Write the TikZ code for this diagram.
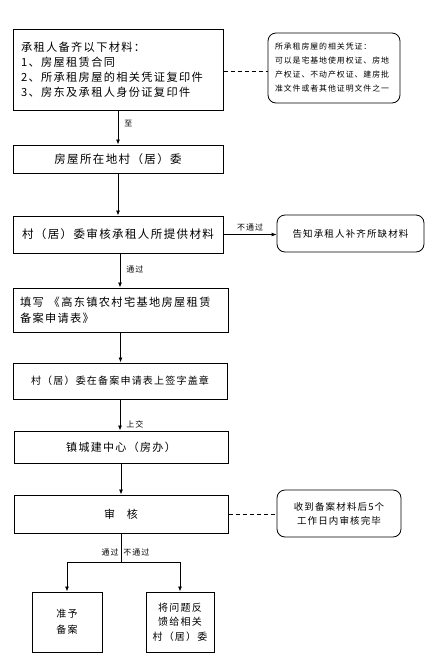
\documentclass[tikz,border=0pt]{standalone}
\usepackage{fontspec}
\newfontfamily\cjk[LetterSpace=12]{Noto Sans CJK SC}
\usetikzlibrary{arrows.meta}

\begin{document}
\begin{tikzpicture}[
  x=1pt, y=-1pt,
  font=\cjk\fontsize{11.5}{15}\selectfont,
  box/.style={rectangle, draw, line width=1pt, inner sep=0pt},
  note/.style={rectangle, draw, rounded corners=8pt, line width=0.8pt, inner sep=0pt},
  arr/.style={-{Latex[length=5pt,width=4pt]}, line width=0.8pt},
  dashline/.style={dash pattern=on 4pt off 3pt, line width=0.8pt},
  lbl/.style={font=\cjk\fontsize{8}{10}\selectfont, inner sep=1pt}
]
\useasboundingbox (0,0) rectangle (433,657);
% main column
\node[box, minimum width=210pt, minimum height=81pt, text width=194pt, inner xsep=8pt, align=left,
  font=\cjk\fontsize{11.2}{15}\selectfont] (b1) at (118,69.5)
  {承租人备齐以下材料：\\1、房屋租赁合同\\2、所承租房屋的相关凭证复印件\\3、房东及承租人身份证复印件};
\node[box, minimum width=210pt, minimum height=28pt] (b2) at (118,159) {房屋所在地村（居）委};
\node[box, minimum width=210pt, minimum height=37pt] (b3) at (118,234.5) {村（居）委审核承租人所提供材料};
\node[box, minimum width=215pt, minimum height=44pt, text width=201pt, inner xsep=7pt, align=left,
  font=\cjk\fontsize{11.2}{16}\selectfont] (b4) at (120.5,310)
  {填写\hspace{5pt}《高东镇农村宅基地房屋租赁\\备案申请表》};
\node[box, minimum width=214pt, minimum height=36pt, font=\cjk\fontsize{10}{12}\selectfont] (b5) at (120,381)
  {村（居）委在备案申请表上签字盖章};
\node[box, minimum width=214pt, minimum height=32pt, font=\cjk\fontsize{11}{13}\selectfont] (b6) at (121,447)
  {镇城建中心（房办）};
\node[box, minimum width=214pt, minimum height=38pt, font=\cjk\fontsize{11}{13}\selectfont] (b7) at (121,514)
  {审\hspace{12pt}核};
\node[box, minimum width=70pt, minimum height=60pt, align=center, font=\cjk\fontsize{10}{16}\selectfont] (b8) at (67,622)
  {准予\\备案};
\node[box, minimum width=68pt, minimum height=60pt, align=center, font=\cjk\fontsize{10}{14.5}\selectfont] (b9) at (180,622)
  {将问题反\\馈给相关\\村（居）委};
% side notes
\node[note, minimum width=132pt, minimum height=70pt, text width=118pt, inner xsep=7pt, align=left,
  font=\cjk\fontsize{7.9}{14}\selectfont] (n1) at (334,68)
  {所承租房屋的相关凭证：\\可以是宅基地使用权证、房地\\产权证、不动产权证、建房批\\准文件或者其他证明文件之一};
\node[note, minimum width=147pt, minimum height=37pt, font=\cjk\fontsize{9.5}{12}\selectfont] (n2) at (350.5,233.5)
  {告知承租人补齐所缺材料};
\node[note, minimum width=124pt, minimum height=47pt, align=center, font=\cjk\fontsize{9.5}{14}\selectfont] (n3) at (339,513.5)
  {收到备案材料后5个\\工作日内审核完毕};
% connectors
\draw[arr] (b1.south) -- node[lbl, right=5pt, pos=0.37] {至} (b1.south |- b2.north);
\draw[arr] (b2.south) -- (b2.south |- b3.north);
\draw[arr] (b3.east) -- node[lbl, above=2pt] {不通过} (b3.east -| n2.west);
\draw[arr] ([xshift=2pt]b3.south) -- node[lbl, right=5pt, pos=0.47] {通过} ([xshift=2pt]b3.south |- b4.north);
\draw[arr] (b4.south) -- (b4.south |- b5.north);
\draw[arr] (b5.south) -- node[lbl, right=5pt, pos=0.8] {上交} (b5.south |- b6.north);
\draw[arr] (b6.south) -- (b6.south |- b7.north);
\coordinate (split) at (121,562);
\draw[line width=0.8pt] (b7.south) -- node[lbl, left=1pt, pos=0.68] {通过} node[lbl, right=1pt, pos=0.68] {不通过} (split);
\draw[arr] (split) -| (b8.north);
\draw[arr] (split) -| (b9.north);
\draw[dashline] (b1.east |- 0,71) -- (n1.west |- 0,71);
\draw[dashline] (b7.east) -- (b7.east -| n3.west);
\end{tikzpicture}
\end{document}
